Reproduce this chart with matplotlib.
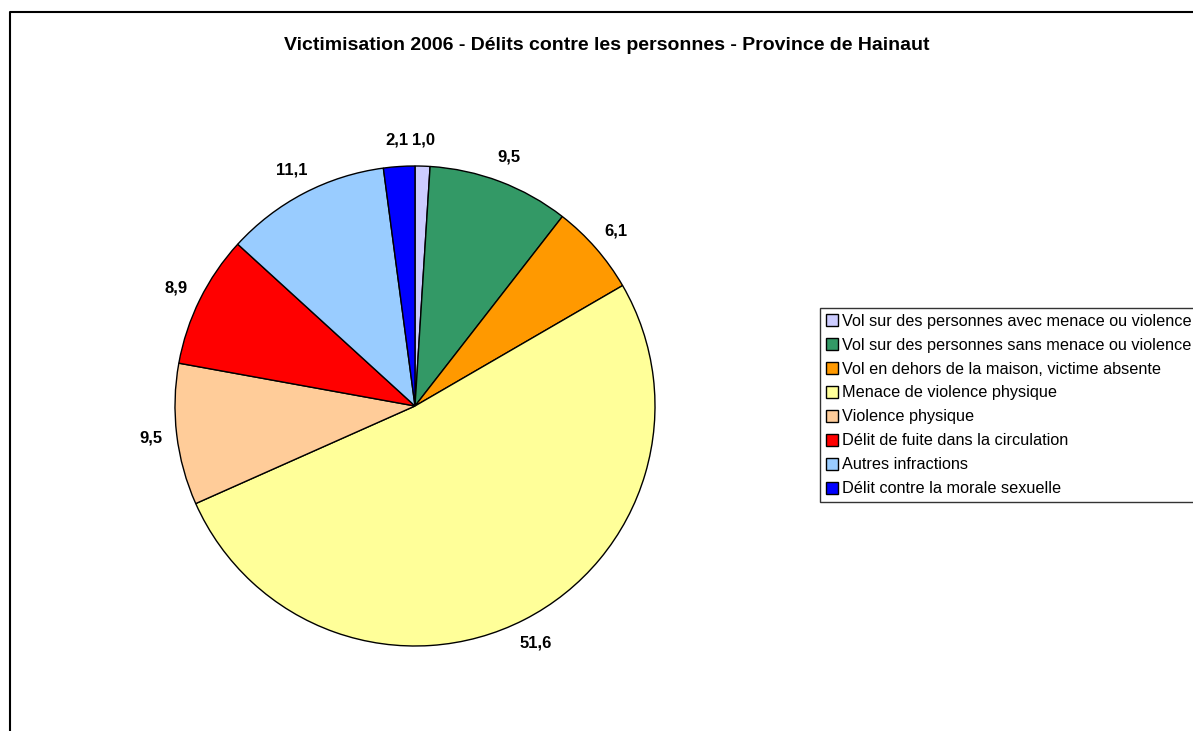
import matplotlib
matplotlib.use("Agg")
import matplotlib.pyplot as plt
from matplotlib.lines import Line2D

categories = [
    "Vol sur des personnes avec menace ou violence",
    "Vol sur des personnes sans menace ou violence",
    "Vol en dehors de la maison, victime absente",
    "Menace de violence physique",
    "Violence physique",
    "Délit de fuite dans la circulation",
    "Autres infractions",
    "Délit contre la morale sexuelle",
]
values = [1.0, 9.5, 6.1, 51.6, 9.5, 8.9, 11.1, 2.1]
value_labels = ["1,0", "9,5", "6,1", "51,6", "9,5", "8,9", "11,1", "2,1"]
colors = ["#CCCCFF", "#339966", "#FF9900", "#FFFF99", "#FFCC99", "#FF0000", "#99CCFF", "#0000FF"]
title = "Victimisation 2006 - Délits contre les personnes - Province de Hainaut"

plt.rcParams['font.family'] = ['Liberation Sans', 'DejaVu Sans']

W, H = 1193, 731
fig = plt.figure(figsize=(W / 100, H / 100), dpi=100)

cx, cy, r = 415, 406, 240
ax = fig.add_axes([(cx - r) / W, (H - cy - r) / H, 2 * r / W, 2 * r / H])
wedges, texts = ax.pie(values, colors=colors, startangle=90, counterclock=False,
                       labels=value_labels, labeldistance=1.11,
                       wedgeprops=dict(edgecolor="black", linewidth=1),
                       textprops=dict(fontsize=12, fontweight="bold",
                                      ha="center", va="center"))
ax.set_xlim(-1, 1)
ax.set_ylim(-1, 1)
ax.set_aspect("auto")

fig.text(607 / W, 1 - 45 / H, title, ha="center", va="center", fontsize=14, fontweight="bold")

leg = fig.legend(wedges, categories, loc="upper left",
                 bbox_to_anchor=(820 / W, 1 - 308 / H),
                 fontsize=11.7, frameon=True, fancybox=False, edgecolor="black",
                 handlelength=0.75, handleheight=0.75, handletextpad=0.25,
                 labelspacing=0.55, borderpad=0.35, borderaxespad=0)
leg.get_frame().set_linewidth(1)

# outer chart border (left and top only visible)
fig.add_artist(Line2D([10 / W, 10 / W, 1.0], [0, 1 - 12 / H, 1 - 12 / H],
                      transform=fig.transFigure, color="black", linewidth=1.5))

fig.savefig("out.png", dpi=100)
